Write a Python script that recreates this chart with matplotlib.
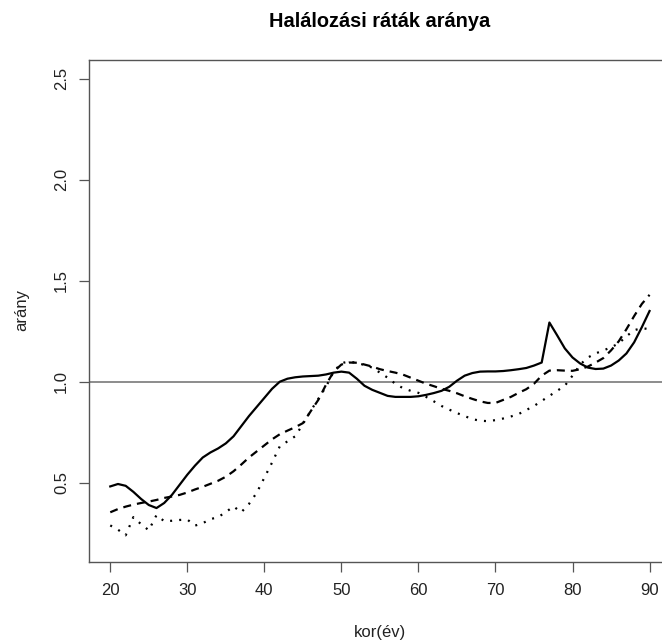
import numpy as np
import matplotlib
matplotlib.use("Agg")
import matplotlib.pyplot as plt

plt.rcParams['font.family'] = ['Liberation Sans', 'DejaVu Sans']

# Age (years) and the three mortality-rate ratio curves
ages = list(range(20, 91))

ratio_solid = [
    0.482, 0.494, 0.485, 0.455, 0.420, 0.390, 0.375, 0.400, 0.440, 0.490,
    0.540, 0.585, 0.625, 0.650, 0.670, 0.695, 0.730, 0.780, 0.830, 0.875,
    0.920, 0.965, 1.000, 1.015, 1.022, 1.026, 1.028, 1.030, 1.036, 1.045,
    1.050, 1.045, 1.015, 0.980, 0.960, 0.945, 0.930, 0.925, 0.925, 0.925,
    0.928, 0.935, 0.944, 0.955, 0.975, 1.005, 1.030, 1.043, 1.050, 1.051,
    1.051, 1.053, 1.057, 1.062, 1.068, 1.080, 1.095, 1.293, 1.230, 1.165,
    1.120, 1.090, 1.070, 1.063, 1.065, 1.080, 1.105, 1.140, 1.195, 1.270,
    1.350,
]

ratio_dashed = [
    0.354, 0.370, 0.382, 0.392, 0.400, 0.407, 0.415, 0.425, 0.432, 0.440,
    0.452, 0.467, 0.480, 0.495, 0.510, 0.530, 0.557, 0.590, 0.625, 0.655,
    0.685, 0.715, 0.740, 0.758, 0.775, 0.795, 0.853, 0.910, 0.985, 1.050,
    1.085, 1.095, 1.094, 1.085, 1.075, 1.062, 1.053, 1.045, 1.035, 1.020,
    1.005, 0.990, 0.978, 0.965, 0.955, 0.943, 0.928, 0.915, 0.903, 0.895,
    0.895, 0.910, 0.925, 0.945, 0.963, 0.990, 1.030, 1.055, 1.057, 1.055,
    1.054, 1.062, 1.075, 1.095, 1.117, 1.155, 1.200, 1.260, 1.325, 1.385,
    1.430,
]

ratio_dotted = [
    0.289, 0.268, 0.240, 0.330, 0.295, 0.265, 0.340, 0.310, 0.312, 0.316,
    0.318, 0.288, 0.300, 0.320, 0.330, 0.355, 0.383, 0.354, 0.395, 0.450,
    0.525, 0.600, 0.680, 0.705, 0.730, 0.790, 0.855, 0.915, 0.975, 1.050,
    1.092, 1.100, 1.093, 1.083, 1.070, 1.045, 1.020, 0.990, 0.968, 0.955,
    0.945, 0.925, 0.903, 0.880, 0.862, 0.845, 0.830, 0.815, 0.807, 0.805,
    0.810, 0.818, 0.828, 0.840, 0.860, 0.880, 0.905, 0.930, 0.955, 0.980,
    1.030, 1.085, 1.120, 1.140, 1.155, 1.170, 1.190, 1.225, 1.255, 1.265,
    1.260,
]

x_ticks = [20, 30, 40, 50, 60, 70, 80, 90]
y_ticks = [0.5, 1.0, 1.5, 2.0, 2.5]
y_ticklabels = ["0.5", "1.0", "1.5", "2.0", "2.5"]

W, H = 662, 643
fig = plt.figure(figsize=(W / 100, H / 100), dpi=100)

# Plot region in pixels; the frame runs off the right edge of the canvas
left, right, top, bottom = 88.7, 662.0, 60.0, 562.0
px_per_year = 7.704
ax = fig.add_axes([left / W, (H - bottom) / H, (right - left) / W, (bottom - top) / H])

ink = "black"
frame = "#555555"
lw = 1.6

ax.plot(ages, ratio_solid, color=ink, lw=lw, linestyle="-", solid_joinstyle="round")
ax.plot(ages, ratio_dashed, color=ink, lw=lw, linestyle=(0, (3.6, 2.7)))
ax.plot(ages, ratio_dotted, color=ink, lw=lw, linestyle=(0, (0.9, 3.2)))
ax.axhline(1.0, color="#6e6e6e", lw=1.1, zorder=1)

# R-style 4% padding on the left; the right side is cut by the canvas
x_lo = 20 - 0.04 * 70
ax.set_xlim(x_lo, x_lo + (right - left) / px_per_year)
ax.set_ylim(0.2 - 0.04 * 2.3, 2.5 + 0.04 * 2.3)

ax.set_xticks(x_ticks)
ax.set_xticklabels([str(v) for v in x_ticks])
ax.set_yticks(y_ticks)
ax.set_yticklabels(y_ticklabels, rotation=90, va="center")

ax.tick_params(axis="both", direction="out", length=7.2, width=0.9,
               color=frame, labelsize=12, labelcolor="#222222")
ax.tick_params(axis="x", pad=8)
ax.tick_params(axis="y", pad=7)

for s in ax.spines.values():
    s.set_color(frame)
    s.set_linewidth(1.0)
ax.spines["right"].set_visible(False)

# centred over the full plot box (whose right edge lies at x = 671 px)
ax.text(0.5 * (671.0 - left) / (right - left), 1 + 38.5 / (bottom - top),
        "Halálozási ráták aránya",
        transform=ax.transAxes, ha="center", va="center",
        fontsize=14.4, fontweight="bold", color="black")

fig.text(((left + 671.0) / 2) / W, 1 - 632 / H, "kor(év)",
         ha="center", va="center", fontsize=12, color="#222222")
fig.text(21.5 / W, 1 - 310 / H, "arány", rotation=90,
         ha="center", va="center", fontsize=12, color="#222222")

fig.savefig("out.png", dpi=100)
